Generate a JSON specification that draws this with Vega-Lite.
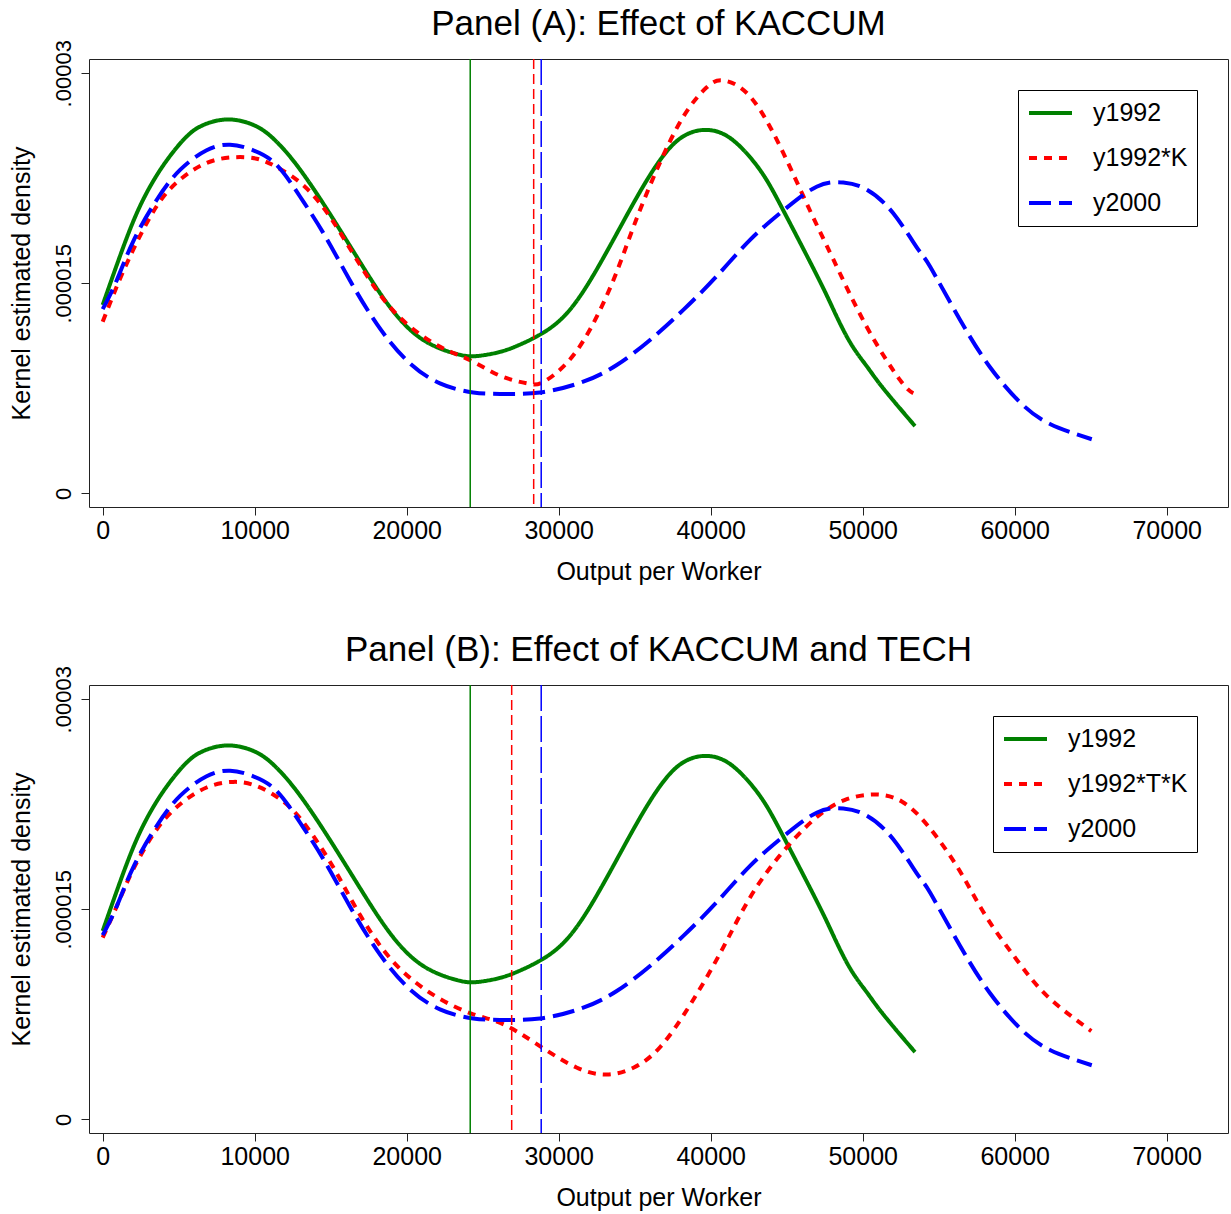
{
  "$schema": "https://vega.github.io/schema/vega-lite/v6.json",
  "padding": {"left": 8, "top": 6, "right": 3, "bottom": 2},
  "background": "white",
  "spacing": 47,
  "config": {
    "font": "Liberation Sans",
    "view": {"stroke": "#222222", "strokeWidth": 1},
    "axis": {"grid": false, "domain": false, "tickColor": "#222222", "tickSize": 8, "labelColor": "black", "titleColor": "black", "titleFontWeight": "normal", "labelFont": "Liberation Sans", "titleFont": "Liberation Sans"},
    "title": {"fontWeight": "normal", "font": "Liberation Sans", "fontSize": 35, "color": "black", "anchor": "middle", "frame": "group", "offset": -2}
  },
  "resolve": {"scale": {"color": "independent", "strokeDash": "independent"}, "legend": {"color": "independent", "strokeDash": "independent"}},
  "datasets": {
    "curves": [
      {"series": "y1992", "output": 0, "density": 1.345e-5},
      {"series": "y1992", "output": 1360, "density": 1.76e-5},
      {"series": "y1992", "output": 2450, "density": 2.05e-5},
      {"series": "y1992", "output": 3550, "density": 2.27e-5},
      {"series": "y1992", "output": 4650, "density": 2.44e-5},
      {"series": "y1992", "output": 5740, "density": 2.57e-5},
      {"series": "y1992", "output": 6840, "density": 2.64e-5},
      {"series": "y1992", "output": 8380, "density": 2.67e-5},
      {"series": "y1992", "output": 10130, "density": 2.62e-5},
      {"series": "y1992", "output": 11450, "density": 2.51e-5},
      {"series": "y1992", "output": 12760, "density": 2.345e-5},
      {"series": "y1992", "output": 14510, "density": 2.07e-5},
      {"series": "y1992", "output": 16710, "density": 1.69e-5},
      {"series": "y1992", "output": 18900, "density": 1.33e-5},
      {"series": "y1992", "output": 21090, "density": 1.095e-5},
      {"series": "y1992", "output": 23290, "density": 9.95e-6},
      {"series": "y1992", "output": 24600, "density": 9.8e-6},
      {"series": "y1992", "output": 26140, "density": 1.01e-5},
      {"series": "y1992", "output": 27300, "density": 1.055e-5},
      {"series": "y1992", "output": 28550, "density": 1.12e-5},
      {"series": "y1992", "output": 30530, "density": 1.285e-5},
      {"series": "y1992", "output": 32720, "density": 1.64e-5},
      {"series": "y1992", "output": 34910, "density": 2.07e-5},
      {"series": "y1992", "output": 36670, "density": 2.38e-5},
      {"series": "y1992", "output": 38200, "density": 2.55e-5},
      {"series": "y1992", "output": 39840, "density": 2.595e-5},
      {"series": "y1992", "output": 41490, "density": 2.52e-5},
      {"series": "y1992", "output": 43240, "density": 2.31e-5},
      {"series": "y1992", "output": 44780, "density": 2.02e-5},
      {"series": "y1992", "output": 46970, "density": 1.56e-5},
      {"series": "y1992", "output": 48060, "density": 1.315e-5},
      {"series": "y1992", "output": 49160, "density": 1.08e-5},
      {"series": "y1992", "output": 50250, "density": 9.1e-6},
      {"series": "y1992", "output": 51350, "density": 7.5e-6},
      {"series": "y1992", "output": 53440, "density": 4.8e-6},

      {"series": "y1992*K", "output": 0, "density": 1.225e-5},
      {"series": "y1992*K", "output": 920, "density": 1.475e-5},
      {"series": "y1992*K", "output": 2010, "density": 1.74e-5},
      {"series": "y1992*K", "output": 3550, "density": 2.05e-5},
      {"series": "y1992*K", "output": 5090, "density": 2.24e-5},
      {"series": "y1992*K", "output": 6840, "density": 2.36e-5},
      {"series": "y1992*K", "output": 8590, "density": 2.4e-5},
      {"series": "y1992*K", "output": 10130, "density": 2.39e-5},
      {"series": "y1992*K", "output": 11450, "density": 2.33e-5},
      {"series": "y1992*K", "output": 13200, "density": 2.2e-5},
      {"series": "y1992*K", "output": 14950, "density": 1.975e-5},
      {"series": "y1992*K", "output": 16710, "density": 1.67e-5},
      {"series": "y1992*K", "output": 18900, "density": 1.33e-5},
      {"series": "y1992*K", "output": 21090, "density": 1.12e-5},
      {"series": "y1992*K", "output": 22700, "density": 1.02e-5},
      {"series": "y1992*K", "output": 24380, "density": 9.4e-6},
      {"series": "y1992*K", "output": 26140, "density": 8.4e-6},
      {"series": "y1992*K", "output": 27900, "density": 7.85e-6},
      {"series": "y1992*K", "output": 28990, "density": 7.95e-6},
      {"series": "y1992*K", "output": 30530, "density": 9.3e-6},
      {"series": "y1992*K", "output": 32060, "density": 1.17e-5},
      {"series": "y1992*K", "output": 33590, "density": 1.52e-5},
      {"series": "y1992*K", "output": 34910, "density": 1.9e-5},
      {"series": "y1992*K", "output": 36450, "density": 2.31e-5},
      {"series": "y1992*K", "output": 38200, "density": 2.69e-5},
      {"series": "y1992*K", "output": 39740, "density": 2.9e-5},
      {"series": "y1992*K", "output": 40720, "density": 2.95e-5},
      {"series": "y1992*K", "output": 41930, "density": 2.9e-5},
      {"series": "y1992*K", "output": 43240, "density": 2.74e-5},
      {"series": "y1992*K", "output": 44780, "density": 2.43e-5},
      {"series": "y1992*K", "output": 46530, "density": 2.02e-5},
      {"series": "y1992*K", "output": 48070, "density": 1.67e-5},
      {"series": "y1992*K", "output": 50260, "density": 1.19e-5},
      {"series": "y1992*K", "output": 52450, "density": 8.1e-6},
      {"series": "y1992*K", "output": 53330, "density": 7.15e-6},

      {"series": "y1992*T*K", "output": 0, "density": 1.298e-5},
      {"series": "y1992*T*K", "output": 920, "density": 1.52e-5},
      {"series": "y1992*T*K", "output": 2010, "density": 1.785e-5},
      {"series": "y1992*T*K", "output": 3550, "density": 2.07e-5},
      {"series": "y1992*T*K", "output": 5090, "density": 2.25e-5},
      {"series": "y1992*T*K", "output": 6840, "density": 2.37e-5},
      {"series": "y1992*T*K", "output": 8590, "density": 2.41e-5},
      {"series": "y1992*T*K", "output": 10130, "density": 2.38e-5},
      {"series": "y1992*T*K", "output": 11880, "density": 2.27e-5},
      {"series": "y1992*T*K", "output": 13420, "density": 2.09e-5},
      {"series": "y1992*T*K", "output": 15170, "density": 1.8e-5},
      {"series": "y1992*T*K", "output": 16710, "density": 1.5e-5},
      {"series": "y1992*T*K", "output": 18460, "density": 1.21e-5},
      {"series": "y1992*T*K", "output": 20220, "density": 1.01e-5},
      {"series": "y1992*T*K", "output": 22190, "density": 8.6e-6},
      {"series": "y1992*T*K", "output": 24380, "density": 7.5e-6},
      {"series": "y1992*T*K", "output": 26340, "density": 6.8e-6},
      {"series": "y1992*T*K", "output": 28660, "density": 5.3e-6},
      {"series": "y1992*T*K", "output": 31170, "density": 3.7e-6},
      {"series": "y1992*T*K", "output": 33190, "density": 3.2e-6},
      {"series": "y1992*T*K", "output": 34950, "density": 3.7e-6},
      {"series": "y1992*T*K", "output": 36710, "density": 5.2e-6},
      {"series": "y1992*T*K", "output": 38720, "density": 8.3e-6},
      {"series": "y1992*T*K", "output": 40740, "density": 1.21e-5},
      {"series": "y1992*T*K", "output": 42510, "density": 1.57e-5},
      {"series": "y1992*T*K", "output": 44520, "density": 1.88e-5},
      {"series": "y1992*T*K", "output": 46780, "density": 2.14e-5},
      {"series": "y1992*T*K", "output": 48800, "density": 2.28e-5},
      {"series": "y1992*T*K", "output": 50810, "density": 2.32e-5},
      {"series": "y1992*T*K", "output": 52570, "density": 2.27e-5},
      {"series": "y1992*T*K", "output": 54340, "density": 2.09e-5},
      {"series": "y1992*T*K", "output": 56350, "density": 1.78e-5},
      {"series": "y1992*T*K", "output": 58110, "density": 1.45e-5},
      {"series": "y1992*T*K", "output": 60130, "density": 1.14e-5},
      {"series": "y1992*T*K", "output": 62140, "density": 8.8e-6},
      {"series": "y1992*T*K", "output": 65040, "density": 6.3e-6},

      {"series": "y2000", "output": 0, "density": 1.315e-5},
      {"series": "y2000", "output": 920, "density": 1.52e-5},
      {"series": "y2000", "output": 2010, "density": 1.8e-5},
      {"series": "y2000", "output": 3550, "density": 2.095e-5},
      {"series": "y2000", "output": 5090, "density": 2.31e-5},
      {"series": "y2000", "output": 6840, "density": 2.45e-5},
      {"series": "y2000", "output": 8380, "density": 2.49e-5},
      {"series": "y2000", "output": 9910, "density": 2.45e-5},
      {"series": "y2000", "output": 11450, "density": 2.345e-5},
      {"series": "y2000", "output": 12980, "density": 2.12e-5},
      {"series": "y2000", "output": 14510, "density": 1.86e-5},
      {"series": "y2000", "output": 16270, "density": 1.52e-5},
      {"series": "y2000", "output": 18030, "density": 1.21e-5},
      {"series": "y2000", "output": 20000, "density": 9.5e-6},
      {"series": "y2000", "output": 22190, "density": 7.85e-6},
      {"series": "y2000", "output": 24380, "density": 7.2e-6},
      {"series": "y2000", "output": 26140, "density": 7.1e-6},
      {"series": "y2000", "output": 28770, "density": 7.2e-6},
      {"series": "y2000", "output": 31620, "density": 7.97e-6},
      {"series": "y2000", "output": 33820, "density": 9.16e-6},
      {"series": "y2000", "output": 36010, "density": 1.095e-5},
      {"series": "y2000", "output": 38200, "density": 1.31e-5},
      {"series": "y2000", "output": 40390, "density": 1.55e-5},
      {"series": "y2000", "output": 42590, "density": 1.81e-5},
      {"series": "y2000", "output": 44780, "density": 2.02e-5},
      {"series": "y2000", "output": 46970, "density": 2.19e-5},
      {"series": "y2000", "output": 48720, "density": 2.22e-5},
      {"series": "y2000", "output": 50260, "density": 2.17e-5},
      {"series": "y2000", "output": 52010, "density": 2.0e-5},
      {"series": "y2000", "output": 53660, "density": 1.74e-5},
      {"series": "y2000", "output": 54430, "density": 1.62e-5},
      {"series": "y2000", "output": 56400, "density": 1.24e-5},
      {"series": "y2000", "output": 58380, "density": 9.0e-6},
      {"series": "y2000", "output": 60350, "density": 6.5e-6},
      {"series": "y2000", "output": 62320, "density": 4.95e-6},
      {"series": "y2000", "output": 65070, "density": 3.86e-6}
    ],
    "means": [
      {"panel": "A", "series": "y1992", "output": 24180},
      {"panel": "A", "series": "y1992*K", "output": 28355},
      {"panel": "A", "series": "y2000", "output": 28850},
      {"panel": "B", "series": "y1992", "output": 24180},
      {"panel": "B", "series": "y1992*T*K", "output": 26908},
      {"panel": "B", "series": "y2000", "output": 28850}
    ]
  },
  "vconcat": [
    {
      "title": "Panel (A): Effect of KACCUM",
      "width": 1139,
      "height": 448,
      "layer": [
        {
          "data": {"name": "curves"},
          "transform": [{"filter": {"field": "series", "oneOf": ["y1992", "y1992*K", "y2000"]}}],
          "mark": {"type": "line", "strokeWidth": 4, "interpolate": "natural"},
          "encoding": {
            "x": {"field": "output", "type": "quantitative", "scale": {"domain": [-900, 74033], "nice": false, "zero": false},
              "axis": {"values": [0, 10000, 20000, 30000, 40000, 50000, 60000, 70000], "format": "d", "labelFontSize": 25, "labelPadding": 3, "title": "Output per Worker", "titleFontSize": 25, "titlePadding": 16}},
            "y": {"field": "density", "type": "quantitative", "scale": {"domain": [-0.00000098, 0.00003102], "nice": false, "zero": false},
              "axis": {"values": [0, 0.000015, 0.00003], "labelExpr": "datum.value == 0 ? '0' : replace(format(datum.value, '.6~f'), '0.', '.')", "labelAngle": -90, "labelAlign": "center", "labelBaseline": "bottom", "labelFontSize": 22, "labelPadding": 6, "title": "Kernel estimated density", "titleFontSize": 25, "titlePadding": 18}},
            "color": {"field": "series", "type": "nominal", "scale": {"domain": ["y1992", "y1992*K", "y2000"], "range": ["#008000", "#ff0000", "#0000ff"]},
              "legend": {"title": null, "orient": "top-right", "offset": 31, "strokeColor": "black", "fillColor": "white", "padding": 9, "symbolType": "stroke", "symbolSize": 1849, "symbolStrokeWidth": 4, "labelFontSize": 25, "labelFont": "Liberation Sans", "labelColor": "black", "rowPadding": 17, "clipHeight": 28, "labelOffset": 19, "labelLimit": 0, "cornerRadius": 0}},
            "strokeDash": {"field": "series", "type": "nominal", "scale": {"domain": ["y1992", "y1992*K", "y2000"], "range": [[1, 0], [8, 7], [22, 8]]},
              "legend": {"title": null, "orient": "top-right", "offset": 31, "strokeColor": "black", "fillColor": "white", "padding": 9, "symbolType": "stroke", "symbolSize": 1849, "symbolStrokeWidth": 4, "labelFontSize": 25, "labelFont": "Liberation Sans", "labelColor": "black", "rowPadding": 17, "clipHeight": 28, "labelOffset": 19, "labelLimit": 0, "cornerRadius": 0}}
          }
        },
        {
          "data": {"name": "means"},
          "transform": [{"filter": {"field": "panel", "equal": "A"}}],
          "mark": {"type": "rule", "strokeWidth": 1.5},
          "encoding": {
            "x": {"field": "output", "type": "quantitative"},
            "color": {"field": "series", "type": "nominal"},
            "strokeDash": {"condition": [{"test": "datum.series === 'y2000'", "value": [26, 5]}, {"test": "datum.series !== 'y1992'", "value": [10, 5]}], "value": [1, 0]}
          }
        }
      ]
    },
    {
      "title": "Panel (B): Effect of KACCUM and TECH",
      "width": 1139,
      "height": 448,
      "layer": [
        {
          "data": {"name": "curves"},
          "transform": [{"filter": {"field": "series", "oneOf": ["y1992", "y1992*T*K", "y2000"]}}],
          "mark": {"type": "line", "strokeWidth": 4, "interpolate": "natural"},
          "encoding": {
            "x": {"field": "output", "type": "quantitative", "scale": {"domain": [-900, 74033], "nice": false, "zero": false},
              "axis": {"values": [0, 10000, 20000, 30000, 40000, 50000, 60000, 70000], "format": "d", "labelFontSize": 25, "labelPadding": 3, "title": "Output per Worker", "titleFontSize": 25, "titlePadding": 16}},
            "y": {"field": "density", "type": "quantitative", "scale": {"domain": [-0.00000098, 0.00003102], "nice": false, "zero": false},
              "axis": {"values": [0, 0.000015, 0.00003], "labelExpr": "datum.value == 0 ? '0' : replace(format(datum.value, '.6~f'), '0.', '.')", "labelAngle": -90, "labelAlign": "center", "labelBaseline": "bottom", "labelFontSize": 22, "labelPadding": 6, "title": "Kernel estimated density", "titleFontSize": 25, "titlePadding": 18}},
            "color": {"field": "series", "type": "nominal", "scale": {"domain": ["y1992", "y1992*T*K", "y2000"], "range": ["#008000", "#ff0000", "#0000ff"]},
              "legend": {"title": null, "orient": "top-right", "offset": 31, "strokeColor": "black", "fillColor": "white", "padding": 9, "symbolType": "stroke", "symbolSize": 1849, "symbolStrokeWidth": 4, "labelFontSize": 25, "labelFont": "Liberation Sans", "labelColor": "black", "rowPadding": 17, "clipHeight": 28, "labelOffset": 19, "labelLimit": 0, "cornerRadius": 0}},
            "strokeDash": {"field": "series", "type": "nominal", "scale": {"domain": ["y1992", "y1992*T*K", "y2000"], "range": [[1, 0], [8, 7], [22, 8]]},
              "legend": {"title": null, "orient": "top-right", "offset": 31, "strokeColor": "black", "fillColor": "white", "padding": 9, "symbolType": "stroke", "symbolSize": 1849, "symbolStrokeWidth": 4, "labelFontSize": 25, "labelFont": "Liberation Sans", "labelColor": "black", "rowPadding": 17, "clipHeight": 28, "labelOffset": 19, "labelLimit": 0, "cornerRadius": 0}}
          }
        },
        {
          "data": {"name": "means"},
          "transform": [{"filter": {"field": "panel", "equal": "B"}}],
          "mark": {"type": "rule", "strokeWidth": 1.5},
          "encoding": {
            "x": {"field": "output", "type": "quantitative"},
            "color": {"field": "series", "type": "nominal"},
            "strokeDash": {"condition": [{"test": "datum.series === 'y2000'", "value": [26, 5]}, {"test": "datum.series !== 'y1992'", "value": [10, 5]}], "value": [1, 0]}
          }
        }
      ]
    }
  ]
}
